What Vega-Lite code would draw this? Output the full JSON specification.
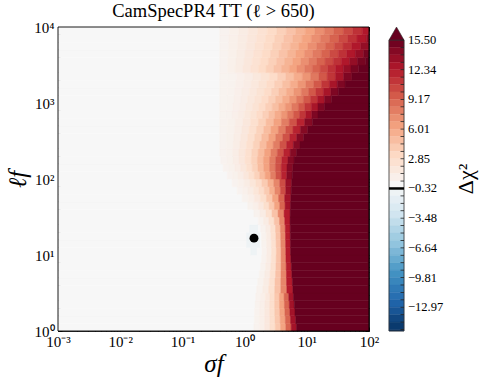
{
"$schema":"https://vega.github.io/schema/vega-lite/v6.json",
"background":"white",
"padding":{"left":5,"right":5,"top":1,"bottom":3},
"config":{"font":"Liberation Serif","view":{"stroke":null},
"axis":{"labelFont":"Liberation Serif","titleFont":"Liberation Serif","labelColor":"#000","titleColor":"#000","domainColor":"#000","tickColor":"#000","grid":false,"domainWidth":0.8,"tickWidth":0.8,"titleFontWeight":"normal","labelFlush":false,"labelOverlap":false,"labelBound":false,"zindex":1},
"title":{"font":"Liberation Serif","fontSize":18.5,"fontWeight":"normal","color":"#000"}},
"spacing":8,
"hconcat":[
{"width":311,"height":304,
"title":{"text":"CamSpecPR4 TT (ℓ > 650)","offset":0},
"layer":[
{"data":{"values":[
{"s0":-3,"s1":0.15,"l0":0,"l1":0.1,"dchi2":0},{"s0":0.15,"s1":0.236,"l0":0,"l1":0.1,"dchi2":0.55},{"s0":0.236,"s1":0.321,"l0":0,"l1":0.1,"dchi2":0.93},{"s0":0.321,"s1":0.407,"l0":0,"l1":0.1,"dchi2":1.63},{"s0":0.407,"s1":0.492,"l0":0,"l1":0.1,"dchi2":2.7},{"s0":0.492,"s1":0.578,"l0":0,"l1":0.1,"dchi2":4.21},{"s0":0.578,"s1":0.663,"l0":0,"l1":0.1,"dchi2":6.28},{"s0":0.663,"s1":0.749,"l0":0,"l1":0.1,"dchi2":9.12},{"s0":0.749,"s1":0.834,"l0":0,"l1":0.1,"dchi2":13.01},{"s0":0.834,"s1":2,"l0":0,"l1":0.1,"dchi2":16},
{"s0":-3,"s1":0.155,"l0":0.1,"l1":0.2,"dchi2":0},{"s0":0.155,"s1":0.238,"l0":0.1,"l1":0.2,"dchi2":0.55},{"s0":0.238,"s1":0.322,"l0":0.1,"l1":0.2,"dchi2":0.93},{"s0":0.322,"s1":0.405,"l0":0.1,"l1":0.2,"dchi2":1.63},{"s0":0.405,"s1":0.489,"l0":0.1,"l1":0.2,"dchi2":2.7},{"s0":0.489,"s1":0.572,"l0":0.1,"l1":0.2,"dchi2":4.21},{"s0":0.572,"s1":0.655,"l0":0.1,"l1":0.2,"dchi2":6.28},{"s0":0.655,"s1":0.739,"l0":0.1,"l1":0.2,"dchi2":9.12},{"s0":0.739,"s1":0.822,"l0":0.1,"l1":0.2,"dchi2":13.01},{"s0":0.822,"s1":2,"l0":0.1,"l1":0.2,"dchi2":16},
{"s0":-3,"s1":0.16,"l0":0.2,"l1":0.3,"dchi2":0},{"s0":0.16,"s1":0.241,"l0":0.2,"l1":0.3,"dchi2":0.55},{"s0":0.241,"s1":0.323,"l0":0.2,"l1":0.3,"dchi2":0.93},{"s0":0.323,"s1":0.404,"l0":0.2,"l1":0.3,"dchi2":1.63},{"s0":0.404,"s1":0.485,"l0":0.2,"l1":0.3,"dchi2":2.7},{"s0":0.485,"s1":0.566,"l0":0.2,"l1":0.3,"dchi2":4.21},{"s0":0.566,"s1":0.648,"l0":0.2,"l1":0.3,"dchi2":6.28},{"s0":0.648,"s1":0.729,"l0":0.2,"l1":0.3,"dchi2":9.12},{"s0":0.729,"s1":0.81,"l0":0.2,"l1":0.3,"dchi2":13.01},{"s0":0.81,"s1":2,"l0":0.2,"l1":0.3,"dchi2":16},
{"s0":-3,"s1":0.167,"l0":0.3,"l1":0.4,"dchi2":0},{"s0":0.167,"s1":0.246,"l0":0.3,"l1":0.4,"dchi2":0.55},{"s0":0.246,"s1":0.325,"l0":0.3,"l1":0.4,"dchi2":0.93},{"s0":0.325,"s1":0.404,"l0":0.3,"l1":0.4,"dchi2":1.63},{"s0":0.404,"s1":0.483,"l0":0.3,"l1":0.4,"dchi2":2.7},{"s0":0.483,"s1":0.561,"l0":0.3,"l1":0.4,"dchi2":4.21},{"s0":0.561,"s1":0.64,"l0":0.3,"l1":0.4,"dchi2":6.28},{"s0":0.64,"s1":0.719,"l0":0.3,"l1":0.4,"dchi2":9.12},{"s0":0.719,"s1":0.798,"l0":0.3,"l1":0.4,"dchi2":13.01},{"s0":0.798,"s1":2,"l0":0.3,"l1":0.4,"dchi2":16},
{"s0":-3,"s1":0.18,"l0":0.4,"l1":0.5,"dchi2":0},{"s0":0.18,"s1":0.256,"l0":0.4,"l1":0.5,"dchi2":0.55},{"s0":0.256,"s1":0.332,"l0":0.4,"l1":0.5,"dchi2":0.93},{"s0":0.332,"s1":0.407,"l0":0.4,"l1":0.5,"dchi2":1.63},{"s0":0.407,"s1":0.483,"l0":0.4,"l1":0.5,"dchi2":2.7},{"s0":0.483,"s1":0.559,"l0":0.4,"l1":0.5,"dchi2":4.21},{"s0":0.559,"s1":0.635,"l0":0.4,"l1":0.5,"dchi2":6.28},{"s0":0.635,"s1":0.71,"l0":0.4,"l1":0.5,"dchi2":9.12},{"s0":0.71,"s1":0.786,"l0":0.4,"l1":0.5,"dchi2":13.01},{"s0":0.786,"s1":2,"l0":0.4,"l1":0.5,"dchi2":16},
{"s0":-3,"s1":0.193,"l0":0.5,"l1":0.6,"dchi2":0},{"s0":0.193,"s1":0.29,"l0":0.5,"l1":0.6,"dchi2":0.59},{"s0":0.29,"s1":0.387,"l0":0.5,"l1":0.6,"dchi2":1.24},{"s0":0.387,"s1":0.485,"l0":0.5,"l1":0.6,"dchi2":2.49},{"s0":0.485,"s1":0.582,"l0":0.5,"l1":0.6,"dchi2":4.51},{"s0":0.582,"s1":0.679,"l0":0.5,"l1":0.6,"dchi2":7.59},{"s0":0.679,"s1":0.776,"l0":0.5,"l1":0.6,"dchi2":12.27},{"s0":0.776,"s1":2,"l0":0.5,"l1":0.6,"dchi2":16},
{"s0":-3,"s1":0.21,"l0":0.6,"l1":0.7,"dchi2":0},{"s0":0.21,"s1":0.303,"l0":0.6,"l1":0.7,"dchi2":0.59},{"s0":0.303,"s1":0.396,"l0":0.6,"l1":0.7,"dchi2":1.24},{"s0":0.396,"s1":0.489,"l0":0.6,"l1":0.7,"dchi2":2.49},{"s0":0.489,"s1":0.582,"l0":0.6,"l1":0.7,"dchi2":4.51},{"s0":0.582,"s1":0.675,"l0":0.6,"l1":0.7,"dchi2":7.59},{"s0":0.675,"s1":0.768,"l0":0.6,"l1":0.7,"dchi2":12.27},{"s0":0.768,"s1":2,"l0":0.6,"l1":0.7,"dchi2":16},
{"s0":-3,"s1":0.235,"l0":0.7,"l1":0.8,"dchi2":0},{"s0":0.235,"s1":0.323,"l0":0.7,"l1":0.8,"dchi2":0.59},{"s0":0.323,"s1":0.41,"l0":0.7,"l1":0.8,"dchi2":1.24},{"s0":0.41,"s1":0.498,"l0":0.7,"l1":0.8,"dchi2":2.49},{"s0":0.498,"s1":0.585,"l0":0.7,"l1":0.8,"dchi2":4.51},{"s0":0.585,"s1":0.673,"l0":0.7,"l1":0.8,"dchi2":7.59},{"s0":0.673,"s1":0.76,"l0":0.7,"l1":0.8,"dchi2":12.27},{"s0":0.76,"s1":2,"l0":0.7,"l1":0.8,"dchi2":16},
{"s0":-3,"s1":0.255,"l0":0.8,"l1":0.9,"dchi2":0},{"s0":0.255,"s1":0.338,"l0":0.8,"l1":0.9,"dchi2":0.59},{"s0":0.338,"s1":0.421,"l0":0.8,"l1":0.9,"dchi2":1.24},{"s0":0.421,"s1":0.504,"l0":0.8,"l1":0.9,"dchi2":2.49},{"s0":0.504,"s1":0.586,"l0":0.8,"l1":0.9,"dchi2":4.51},{"s0":0.586,"s1":0.669,"l0":0.8,"l1":0.9,"dchi2":7.59},{"s0":0.669,"s1":0.752,"l0":0.8,"l1":0.9,"dchi2":12.27},{"s0":0.752,"s1":2,"l0":0.8,"l1":0.9,"dchi2":16},
{"s0":-3,"s1":0.27,"l0":0.9,"l1":1.0,"dchi2":0},{"s0":0.27,"s1":0.349,"l0":0.9,"l1":1.0,"dchi2":0.59},{"s0":0.349,"s1":0.428,"l0":0.9,"l1":1.0,"dchi2":1.24},{"s0":0.428,"s1":0.507,"l0":0.9,"l1":1.0,"dchi2":2.49},{"s0":0.507,"s1":0.586,"l0":0.9,"l1":1.0,"dchi2":4.51},{"s0":0.586,"s1":0.665,"l0":0.9,"l1":1.0,"dchi2":7.59},{"s0":0.665,"s1":0.744,"l0":0.9,"l1":1.0,"dchi2":12.27},{"s0":0.744,"s1":2,"l0":0.9,"l1":1.0,"dchi2":16},
{"s0":-3,"s1":0.1,"l0":1.0,"l1":1.1,"dchi2":0},{"s0":0.1,"s1":0.2,"l0":1.0,"l1":1.1,"dchi2":-0.7},{"s0":0.2,"s1":0.28,"l0":1.0,"l1":1.1,"dchi2":0},{"s0":0.28,"s1":0.357,"l0":1.0,"l1":1.1,"dchi2":0.59},{"s0":0.357,"s1":0.433,"l0":1.0,"l1":1.1,"dchi2":1.24},{"s0":0.433,"s1":0.51,"l0":1.0,"l1":1.1,"dchi2":2.49},{"s0":0.51,"s1":0.586,"l0":1.0,"l1":1.1,"dchi2":4.51},{"s0":0.586,"s1":0.663,"l0":1.0,"l1":1.1,"dchi2":7.59},{"s0":0.663,"s1":0.739,"l0":1.0,"l1":1.1,"dchi2":12.27},{"s0":0.739,"s1":2,"l0":1.0,"l1":1.1,"dchi2":16},
{"s0":-3,"s1":0.03,"l0":1.1,"l1":1.2,"dchi2":0},{"s0":0.03,"s1":0.25,"l0":1.1,"l1":1.2,"dchi2":-0.7},{"s0":0.25,"s1":0.275,"l0":1.1,"l1":1.2,"dchi2":0},{"s0":0.275,"s1":0.352,"l0":1.1,"l1":1.2,"dchi2":0.59},{"s0":0.352,"s1":0.429,"l0":1.1,"l1":1.2,"dchi2":1.24},{"s0":0.429,"s1":0.506,"l0":1.1,"l1":1.2,"dchi2":2.49},{"s0":0.506,"s1":0.583,"l0":1.1,"l1":1.2,"dchi2":4.51},{"s0":0.583,"s1":0.66,"l0":1.1,"l1":1.2,"dchi2":7.59},{"s0":0.66,"s1":0.737,"l0":1.1,"l1":1.2,"dchi2":12.27},{"s0":0.737,"s1":2,"l0":1.1,"l1":1.2,"dchi2":16},
{"s0":-3,"s1":0.03,"l0":1.2,"l1":1.3,"dchi2":0},{"s0":0.03,"s1":0.25,"l0":1.2,"l1":1.3,"dchi2":-0.7},{"s0":0.25,"s1":0.27,"l0":1.2,"l1":1.3,"dchi2":0},{"s0":0.27,"s1":0.348,"l0":1.2,"l1":1.3,"dchi2":0.59},{"s0":0.348,"s1":0.425,"l0":1.2,"l1":1.3,"dchi2":1.24},{"s0":0.425,"s1":0.503,"l0":1.2,"l1":1.3,"dchi2":2.49},{"s0":0.503,"s1":0.58,"l0":1.2,"l1":1.3,"dchi2":4.51},{"s0":0.58,"s1":0.658,"l0":1.2,"l1":1.3,"dchi2":7.59},{"s0":0.658,"s1":0.735,"l0":1.2,"l1":1.3,"dchi2":12.27},{"s0":0.735,"s1":2,"l0":1.2,"l1":1.3,"dchi2":16},
{"s0":-3,"s1":0.08,"l0":1.3,"l1":1.4,"dchi2":0},{"s0":0.08,"s1":0.22,"l0":1.3,"l1":1.4,"dchi2":-0.7},{"s0":0.22,"s1":0.26,"l0":1.3,"l1":1.4,"dchi2":0},{"s0":0.26,"s1":0.339,"l0":1.3,"l1":1.4,"dchi2":0.59},{"s0":0.339,"s1":0.418,"l0":1.3,"l1":1.4,"dchi2":1.24},{"s0":0.418,"s1":0.497,"l0":1.3,"l1":1.4,"dchi2":2.49},{"s0":0.497,"s1":0.575,"l0":1.3,"l1":1.4,"dchi2":4.51},{"s0":0.575,"s1":0.654,"l0":1.3,"l1":1.4,"dchi2":7.59},{"s0":0.654,"s1":0.733,"l0":1.3,"l1":1.4,"dchi2":12.27},{"s0":0.733,"s1":2,"l0":1.3,"l1":1.4,"dchi2":16},
{"s0":-3,"s1":0.22,"l0":1.4,"l1":1.5,"dchi2":0},{"s0":0.22,"s1":0.305,"l0":1.4,"l1":1.5,"dchi2":0.59},{"s0":0.305,"s1":0.39,"l0":1.4,"l1":1.5,"dchi2":1.24},{"s0":0.39,"s1":0.476,"l0":1.4,"l1":1.5,"dchi2":2.49},{"s0":0.476,"s1":0.561,"l0":1.4,"l1":1.5,"dchi2":4.51},{"s0":0.561,"s1":0.646,"l0":1.4,"l1":1.5,"dchi2":7.59},{"s0":0.646,"s1":0.731,"l0":1.4,"l1":1.5,"dchi2":12.27},{"s0":0.731,"s1":2,"l0":1.4,"l1":1.5,"dchi2":16},
{"s0":-3,"s1":0.15,"l0":1.5,"l1":1.6,"dchi2":0},{"s0":0.15,"s1":0.247,"l0":1.5,"l1":1.6,"dchi2":0.59},{"s0":0.247,"s1":0.344,"l0":1.5,"l1":1.6,"dchi2":1.24},{"s0":0.344,"s1":0.441,"l0":1.5,"l1":1.6,"dchi2":2.49},{"s0":0.441,"s1":0.538,"l0":1.5,"l1":1.6,"dchi2":4.51},{"s0":0.538,"s1":0.635,"l0":1.5,"l1":1.6,"dchi2":7.59},{"s0":0.635,"s1":0.732,"l0":1.5,"l1":1.6,"dchi2":12.27},{"s0":0.732,"s1":2,"l0":1.5,"l1":1.6,"dchi2":16},
{"s0":-3,"s1":0.05,"l0":1.6,"l1":1.7,"dchi2":0},{"s0":0.05,"s1":0.136,"l0":1.6,"l1":1.7,"dchi2":0.55},{"s0":0.136,"s1":0.222,"l0":1.6,"l1":1.7,"dchi2":0.93},{"s0":0.222,"s1":0.308,"l0":1.6,"l1":1.7,"dchi2":1.63},{"s0":0.308,"s1":0.394,"l0":1.6,"l1":1.7,"dchi2":2.7},{"s0":0.394,"s1":0.479,"l0":1.6,"l1":1.7,"dchi2":4.21},{"s0":0.479,"s1":0.565,"l0":1.6,"l1":1.7,"dchi2":6.28},{"s0":0.565,"s1":0.651,"l0":1.6,"l1":1.7,"dchi2":9.12},{"s0":0.651,"s1":0.737,"l0":1.6,"l1":1.7,"dchi2":13.01},{"s0":0.737,"s1":2,"l0":1.6,"l1":1.7,"dchi2":16},
{"s0":-3,"s1":-0.04,"l0":1.7,"l1":1.8,"dchi2":0},{"s0":-0.04,"s1":0.058,"l0":1.7,"l1":1.8,"dchi2":0.55},{"s0":0.058,"s1":0.156,"l0":1.7,"l1":1.8,"dchi2":0.93},{"s0":0.156,"s1":0.253,"l0":1.7,"l1":1.8,"dchi2":1.63},{"s0":0.253,"s1":0.351,"l0":1.7,"l1":1.8,"dchi2":2.7},{"s0":0.351,"s1":0.449,"l0":1.7,"l1":1.8,"dchi2":4.21},{"s0":0.449,"s1":0.547,"l0":1.7,"l1":1.8,"dchi2":6.28},{"s0":0.547,"s1":0.644,"l0":1.7,"l1":1.8,"dchi2":9.12},{"s0":0.644,"s1":0.742,"l0":1.7,"l1":1.8,"dchi2":13.01},{"s0":0.742,"s1":2,"l0":1.7,"l1":1.8,"dchi2":16},
{"s0":-3,"s1":-0.12,"l0":1.8,"l1":1.9,"dchi2":0},{"s0":-0.12,"s1":-0.033,"l0":1.8,"l1":1.9,"dchi2":0.53},{"s0":-0.033,"s1":0.054,"l0":1.8,"l1":1.9,"dchi2":0.79},{"s0":0.054,"s1":0.141,"l0":1.8,"l1":1.9,"dchi2":1.24},{"s0":0.141,"s1":0.228,"l0":1.8,"l1":1.9,"dchi2":1.91},{"s0":0.228,"s1":0.315,"l0":1.8,"l1":1.9,"dchi2":2.83},{"s0":0.315,"s1":0.401,"l0":1.8,"l1":1.9,"dchi2":4.04},{"s0":0.401,"s1":0.488,"l0":1.8,"l1":1.9,"dchi2":5.59},{"s0":0.488,"s1":0.575,"l0":1.8,"l1":1.9,"dchi2":7.59},{"s0":0.575,"s1":0.662,"l0":1.8,"l1":1.9,"dchi2":10.15},{"s0":0.662,"s1":0.749,"l0":1.8,"l1":1.9,"dchi2":13.48},{"s0":0.749,"s1":2,"l0":1.8,"l1":1.9,"dchi2":16},
{"s0":-3,"s1":-0.2,"l0":1.9,"l1":2.0,"dchi2":0},{"s0":-0.2,"s1":-0.104,"l0":1.9,"l1":2.0,"dchi2":0.53},{"s0":-0.104,"s1":-0.009,"l0":1.9,"l1":2.0,"dchi2":0.79},{"s0":-0.009,"s1":0.087,"l0":1.9,"l1":2.0,"dchi2":1.24},{"s0":0.087,"s1":0.182,"l0":1.9,"l1":2.0,"dchi2":1.91},{"s0":0.182,"s1":0.278,"l0":1.9,"l1":2.0,"dchi2":2.83},{"s0":0.278,"s1":0.374,"l0":1.9,"l1":2.0,"dchi2":4.04},{"s0":0.374,"s1":0.469,"l0":1.9,"l1":2.0,"dchi2":5.59},{"s0":0.469,"s1":0.565,"l0":1.9,"l1":2.0,"dchi2":7.59},{"s0":0.565,"s1":0.66,"l0":1.9,"l1":2.0,"dchi2":10.15},{"s0":0.66,"s1":0.756,"l0":1.9,"l1":2.0,"dchi2":13.48},{"s0":0.756,"s1":2,"l0":1.9,"l1":2.0,"dchi2":16},
{"s0":-3,"s1":-0.28,"l0":2.0,"l1":2.1,"dchi2":0},{"s0":-0.28,"s1":-0.193,"l0":2.0,"l1":2.1,"dchi2":0.5},{"s0":-0.193,"s1":-0.106,"l0":2.0,"l1":2.1,"dchi2":0.71},{"s0":-0.106,"s1":-0.019,"l0":2.0,"l1":2.1,"dchi2":1.13},{"s0":-0.019,"s1":0.068,"l0":2.0,"l1":2.1,"dchi2":1.75},{"s0":0.068,"s1":0.155,"l0":2.0,"l1":2.1,"dchi2":2.58},{"s0":0.155,"s1":0.243,"l0":2.0,"l1":2.1,"dchi2":3.63},{"s0":0.243,"s1":0.33,"l0":2.0,"l1":2.1,"dchi2":4.88},{"s0":0.33,"s1":0.417,"l0":2.0,"l1":2.1,"dchi2":6.34},{"s0":0.417,"s1":0.504,"l0":2.0,"l1":2.1,"dchi2":8.01},{"s0":0.504,"s1":0.591,"l0":2.0,"l1":2.1,"dchi2":9.89},{"s0":0.591,"s1":0.678,"l0":2.0,"l1":2.1,"dchi2":11.97},{"s0":0.678,"s1":0.765,"l0":2.0,"l1":2.1,"dchi2":14.27},{"s0":0.765,"s1":2,"l0":2.0,"l1":2.1,"dchi2":16},
{"s0":-3,"s1":-0.345,"l0":2.1,"l1":2.2,"dchi2":0},{"s0":-0.345,"s1":-0.252,"l0":2.1,"l1":2.2,"dchi2":0.5},{"s0":-0.252,"s1":-0.158,"l0":2.1,"l1":2.2,"dchi2":0.71},{"s0":-0.158,"s1":-0.065,"l0":2.1,"l1":2.2,"dchi2":1.13},{"s0":-0.065,"s1":0.028,"l0":2.1,"l1":2.2,"dchi2":1.75},{"s0":0.028,"s1":0.122,"l0":2.1,"l1":2.2,"dchi2":2.58},{"s0":0.122,"s1":0.215,"l0":2.1,"l1":2.2,"dchi2":3.63},{"s0":0.215,"s1":0.308,"l0":2.1,"l1":2.2,"dchi2":4.88},{"s0":0.308,"s1":0.402,"l0":2.1,"l1":2.2,"dchi2":6.34},{"s0":0.402,"s1":0.495,"l0":2.1,"l1":2.2,"dchi2":8.01},{"s0":0.495,"s1":0.588,"l0":2.1,"l1":2.2,"dchi2":9.89},{"s0":0.588,"s1":0.682,"l0":2.1,"l1":2.2,"dchi2":11.97},{"s0":0.682,"s1":0.775,"l0":2.1,"l1":2.2,"dchi2":14.27},{"s0":0.775,"s1":2,"l0":2.1,"l1":2.2,"dchi2":16},
{"s0":-3,"s1":-0.385,"l0":2.2,"l1":2.3,"dchi2":0},{"s0":-0.385,"s1":-0.287,"l0":2.2,"l1":2.3,"dchi2":0.5},{"s0":-0.287,"s1":-0.188,"l0":2.2,"l1":2.3,"dchi2":0.71},{"s0":-0.188,"s1":-0.09,"l0":2.2,"l1":2.3,"dchi2":1.13},{"s0":-0.09,"s1":0.008,"l0":2.2,"l1":2.3,"dchi2":1.75},{"s0":0.008,"s1":0.107,"l0":2.2,"l1":2.3,"dchi2":2.58},{"s0":0.107,"s1":0.205,"l0":2.2,"l1":2.3,"dchi2":3.63},{"s0":0.205,"s1":0.303,"l0":2.2,"l1":2.3,"dchi2":4.88},{"s0":0.303,"s1":0.402,"l0":2.2,"l1":2.3,"dchi2":6.34},{"s0":0.402,"s1":0.5,"l0":2.2,"l1":2.3,"dchi2":8.01},{"s0":0.5,"s1":0.598,"l0":2.2,"l1":2.3,"dchi2":9.89},{"s0":0.598,"s1":0.697,"l0":2.2,"l1":2.3,"dchi2":11.97},{"s0":0.697,"s1":0.795,"l0":2.2,"l1":2.3,"dchi2":14.27},{"s0":0.795,"s1":2,"l0":2.2,"l1":2.3,"dchi2":16},
{"s0":-3,"s1":-0.4,"l0":2.3,"l1":2.4,"dchi2":0},{"s0":-0.4,"s1":-0.297,"l0":2.3,"l1":2.4,"dchi2":0.5},{"s0":-0.297,"s1":-0.194,"l0":2.3,"l1":2.4,"dchi2":0.71},{"s0":-0.194,"s1":-0.091,"l0":2.3,"l1":2.4,"dchi2":1.13},{"s0":-0.091,"s1":0.012,"l0":2.3,"l1":2.4,"dchi2":1.75},{"s0":0.012,"s1":0.115,"l0":2.3,"l1":2.4,"dchi2":2.58},{"s0":0.115,"s1":0.218,"l0":2.3,"l1":2.4,"dchi2":3.63},{"s0":0.218,"s1":0.32,"l0":2.3,"l1":2.4,"dchi2":4.88},{"s0":0.32,"s1":0.423,"l0":2.3,"l1":2.4,"dchi2":6.34},{"s0":0.423,"s1":0.526,"l0":2.3,"l1":2.4,"dchi2":8.01},{"s0":0.526,"s1":0.629,"l0":2.3,"l1":2.4,"dchi2":9.89},{"s0":0.629,"s1":0.732,"l0":2.3,"l1":2.4,"dchi2":11.97},{"s0":0.732,"s1":0.835,"l0":2.3,"l1":2.4,"dchi2":14.27},{"s0":0.835,"s1":2,"l0":2.3,"l1":2.4,"dchi2":16},
{"s0":-3,"s1":-0.4,"l0":2.4,"l1":2.5,"dchi2":0},{"s0":-0.4,"s1":-0.293,"l0":2.4,"l1":2.5,"dchi2":0.5},{"s0":-0.293,"s1":-0.185,"l0":2.4,"l1":2.5,"dchi2":0.71},{"s0":-0.185,"s1":-0.078,"l0":2.4,"l1":2.5,"dchi2":1.13},{"s0":-0.078,"s1":0.03,"l0":2.4,"l1":2.5,"dchi2":1.75},{"s0":0.03,"s1":0.138,"l0":2.4,"l1":2.5,"dchi2":2.58},{"s0":0.138,"s1":0.245,"l0":2.4,"l1":2.5,"dchi2":3.63},{"s0":0.245,"s1":0.353,"l0":2.4,"l1":2.5,"dchi2":4.88},{"s0":0.353,"s1":0.46,"l0":2.4,"l1":2.5,"dchi2":6.34},{"s0":0.46,"s1":0.568,"l0":2.4,"l1":2.5,"dchi2":8.01},{"s0":0.568,"s1":0.675,"l0":2.4,"l1":2.5,"dchi2":9.89},{"s0":0.675,"s1":0.783,"l0":2.4,"l1":2.5,"dchi2":11.97},{"s0":0.783,"s1":0.89,"l0":2.4,"l1":2.5,"dchi2":14.27},{"s0":0.89,"s1":2,"l0":2.4,"l1":2.5,"dchi2":16},
{"s0":-3,"s1":-0.4,"l0":2.5,"l1":2.6,"dchi2":0},{"s0":-0.4,"s1":-0.288,"l0":2.5,"l1":2.6,"dchi2":0.5},{"s0":-0.288,"s1":-0.175,"l0":2.5,"l1":2.6,"dchi2":0.71},{"s0":-0.175,"s1":-0.063,"l0":2.5,"l1":2.6,"dchi2":1.13},{"s0":-0.063,"s1":0.05,"l0":2.5,"l1":2.6,"dchi2":1.75},{"s0":0.05,"s1":0.163,"l0":2.5,"l1":2.6,"dchi2":2.58},{"s0":0.163,"s1":0.275,"l0":2.5,"l1":2.6,"dchi2":3.63},{"s0":0.275,"s1":0.388,"l0":2.5,"l1":2.6,"dchi2":4.88},{"s0":0.388,"s1":0.5,"l0":2.5,"l1":2.6,"dchi2":6.34},{"s0":0.5,"s1":0.613,"l0":2.5,"l1":2.6,"dchi2":8.01},{"s0":0.613,"s1":0.725,"l0":2.5,"l1":2.6,"dchi2":9.89},{"s0":0.725,"s1":0.838,"l0":2.5,"l1":2.6,"dchi2":11.97},{"s0":0.838,"s1":0.95,"l0":2.5,"l1":2.6,"dchi2":14.27},{"s0":0.95,"s1":2,"l0":2.5,"l1":2.6,"dchi2":16},
{"s0":-3,"s1":-0.4,"l0":2.6,"l1":2.7,"dchi2":0},{"s0":-0.4,"s1":-0.282,"l0":2.6,"l1":2.7,"dchi2":0.5},{"s0":-0.282,"s1":-0.164,"l0":2.6,"l1":2.7,"dchi2":0.71},{"s0":-0.164,"s1":-0.046,"l0":2.6,"l1":2.7,"dchi2":1.13},{"s0":-0.046,"s1":0.072,"l0":2.6,"l1":2.7,"dchi2":1.75},{"s0":0.072,"s1":0.19,"l0":2.6,"l1":2.7,"dchi2":2.58},{"s0":0.19,"s1":0.308,"l0":2.6,"l1":2.7,"dchi2":3.63},{"s0":0.308,"s1":0.425,"l0":2.6,"l1":2.7,"dchi2":4.88},{"s0":0.425,"s1":0.543,"l0":2.6,"l1":2.7,"dchi2":6.34},{"s0":0.543,"s1":0.661,"l0":2.6,"l1":2.7,"dchi2":8.01},{"s0":0.661,"s1":0.779,"l0":2.6,"l1":2.7,"dchi2":9.89},{"s0":0.779,"s1":0.897,"l0":2.6,"l1":2.7,"dchi2":11.97},{"s0":0.897,"s1":1.015,"l0":2.6,"l1":2.7,"dchi2":14.27},{"s0":1.015,"s1":2,"l0":2.6,"l1":2.7,"dchi2":16},
{"s0":-3,"s1":-0.4,"l0":2.7,"l1":2.8,"dchi2":0},{"s0":-0.4,"s1":-0.276,"l0":2.7,"l1":2.8,"dchi2":0.5},{"s0":-0.276,"s1":-0.152,"l0":2.7,"l1":2.8,"dchi2":0.71},{"s0":-0.152,"s1":-0.027,"l0":2.7,"l1":2.8,"dchi2":1.13},{"s0":-0.027,"s1":0.097,"l0":2.7,"l1":2.8,"dchi2":1.75},{"s0":0.097,"s1":0.221,"l0":2.7,"l1":2.8,"dchi2":2.58},{"s0":0.221,"s1":0.345,"l0":2.7,"l1":2.8,"dchi2":3.63},{"s0":0.345,"s1":0.469,"l0":2.7,"l1":2.8,"dchi2":4.88},{"s0":0.469,"s1":0.593,"l0":2.7,"l1":2.8,"dchi2":6.34},{"s0":0.593,"s1":0.718,"l0":2.7,"l1":2.8,"dchi2":8.01},{"s0":0.718,"s1":0.842,"l0":2.7,"l1":2.8,"dchi2":9.89},{"s0":0.842,"s1":0.966,"l0":2.7,"l1":2.8,"dchi2":11.97},{"s0":0.966,"s1":1.09,"l0":2.7,"l1":2.8,"dchi2":14.27},{"s0":1.09,"s1":2,"l0":2.7,"l1":2.8,"dchi2":16},
{"s0":-3,"s1":-0.4,"l0":2.8,"l1":2.9,"dchi2":0},{"s0":-0.4,"s1":-0.301,"l0":2.8,"l1":2.9,"dchi2":0.49},{"s0":-0.301,"s1":-0.203,"l0":2.8,"l1":2.9,"dchi2":0.6},{"s0":-0.203,"s1":-0.104,"l0":2.8,"l1":2.9,"dchi2":0.84},{"s0":-0.104,"s1":-0.005,"l0":2.8,"l1":2.9,"dchi2":1.19},{"s0":-0.005,"s1":0.094,"l0":2.8,"l1":2.9,"dchi2":1.66},{"s0":0.094,"s1":0.193,"l0":2.8,"l1":2.9,"dchi2":2.25},{"s0":0.193,"s1":0.291,"l0":2.8,"l1":2.9,"dchi2":2.95},{"s0":0.291,"s1":0.39,"l0":2.8,"l1":2.9,"dchi2":3.78},{"s0":0.39,"s1":0.489,"l0":2.8,"l1":2.9,"dchi2":4.72},{"s0":0.489,"s1":0.588,"l0":2.8,"l1":2.9,"dchi2":5.77},{"s0":0.588,"s1":0.686,"l0":2.8,"l1":2.9,"dchi2":6.94},{"s0":0.686,"s1":0.785,"l0":2.8,"l1":2.9,"dchi2":8.24},{"s0":0.785,"s1":0.884,"l0":2.8,"l1":2.9,"dchi2":9.65},{"s0":0.884,"s1":0.983,"l0":2.8,"l1":2.9,"dchi2":11.17},{"s0":0.983,"s1":1.081,"l0":2.8,"l1":2.9,"dchi2":12.81},{"s0":1.081,"s1":1.18,"l0":2.8,"l1":2.9,"dchi2":14.57},{"s0":1.18,"s1":2,"l0":2.8,"l1":2.9,"dchi2":16},
{"s0":-3,"s1":-0.4,"l0":2.9,"l1":3.0,"dchi2":0},{"s0":-0.4,"s1":-0.295,"l0":2.9,"l1":3.0,"dchi2":0.49},{"s0":-0.295,"s1":-0.189,"l0":2.9,"l1":3.0,"dchi2":0.6},{"s0":-0.189,"s1":-0.084,"l0":2.9,"l1":3.0,"dchi2":0.84},{"s0":-0.084,"s1":0.021,"l0":2.9,"l1":3.0,"dchi2":1.19},{"s0":0.021,"s1":0.127,"l0":2.9,"l1":3.0,"dchi2":1.66},{"s0":0.127,"s1":0.232,"l0":2.9,"l1":3.0,"dchi2":2.25},{"s0":0.232,"s1":0.337,"l0":2.9,"l1":3.0,"dchi2":2.95},{"s0":0.337,"s1":0.443,"l0":2.9,"l1":3.0,"dchi2":3.78},{"s0":0.443,"s1":0.548,"l0":2.9,"l1":3.0,"dchi2":4.72},{"s0":0.548,"s1":0.653,"l0":2.9,"l1":3.0,"dchi2":5.77},{"s0":0.653,"s1":0.758,"l0":2.9,"l1":3.0,"dchi2":6.94},{"s0":0.758,"s1":0.864,"l0":2.9,"l1":3.0,"dchi2":8.24},{"s0":0.864,"s1":0.969,"l0":2.9,"l1":3.0,"dchi2":9.65},{"s0":0.969,"s1":1.074,"l0":2.9,"l1":3.0,"dchi2":11.17},{"s0":1.074,"s1":1.18,"l0":2.9,"l1":3.0,"dchi2":12.81},{"s0":1.18,"s1":1.285,"l0":2.9,"l1":3.0,"dchi2":14.57},{"s0":1.285,"s1":2,"l0":2.9,"l1":3.0,"dchi2":16},
{"s0":-3,"s1":-0.4,"l0":3.0,"l1":3.1,"dchi2":0},{"s0":-0.4,"s1":-0.288,"l0":3.0,"l1":3.1,"dchi2":0.49},{"s0":-0.288,"s1":-0.176,"l0":3.0,"l1":3.1,"dchi2":0.6},{"s0":-0.176,"s1":-0.063,"l0":3.0,"l1":3.1,"dchi2":0.84},{"s0":-0.063,"s1":0.049,"l0":3.0,"l1":3.1,"dchi2":1.19},{"s0":0.049,"s1":0.161,"l0":3.0,"l1":3.1,"dchi2":1.66},{"s0":0.161,"s1":0.273,"l0":3.0,"l1":3.1,"dchi2":2.25},{"s0":0.273,"s1":0.385,"l0":3.0,"l1":3.1,"dchi2":2.95},{"s0":0.385,"s1":0.498,"l0":3.0,"l1":3.1,"dchi2":3.78},{"s0":0.498,"s1":0.61,"l0":3.0,"l1":3.1,"dchi2":4.72},{"s0":0.61,"s1":0.722,"l0":3.0,"l1":3.1,"dchi2":5.77},{"s0":0.722,"s1":0.834,"l0":3.0,"l1":3.1,"dchi2":6.94},{"s0":0.834,"s1":0.946,"l0":3.0,"l1":3.1,"dchi2":8.24},{"s0":0.946,"s1":1.058,"l0":3.0,"l1":3.1,"dchi2":9.65},{"s0":1.058,"s1":1.171,"l0":3.0,"l1":3.1,"dchi2":11.17},{"s0":1.171,"s1":1.283,"l0":3.0,"l1":3.1,"dchi2":12.81},{"s0":1.283,"s1":1.395,"l0":3.0,"l1":3.1,"dchi2":14.57},{"s0":1.395,"s1":2,"l0":3.0,"l1":3.1,"dchi2":16},
{"s0":-3,"s1":-0.4,"l0":3.1,"l1":3.2,"dchi2":0},{"s0":-0.4,"s1":-0.281,"l0":3.1,"l1":3.2,"dchi2":0.49},{"s0":-0.281,"s1":-0.162,"l0":3.1,"l1":3.2,"dchi2":0.6},{"s0":-0.162,"s1":-0.043,"l0":3.1,"l1":3.2,"dchi2":0.84},{"s0":-0.043,"s1":0.076,"l0":3.1,"l1":3.2,"dchi2":1.19},{"s0":0.076,"s1":0.195,"l0":3.1,"l1":3.2,"dchi2":1.66},{"s0":0.195,"s1":0.314,"l0":3.1,"l1":3.2,"dchi2":2.25},{"s0":0.314,"s1":0.433,"l0":3.1,"l1":3.2,"dchi2":2.95},{"s0":0.433,"s1":0.553,"l0":3.1,"l1":3.2,"dchi2":3.78},{"s0":0.553,"s1":0.672,"l0":3.1,"l1":3.2,"dchi2":4.72},{"s0":0.672,"s1":0.791,"l0":3.1,"l1":3.2,"dchi2":5.77},{"s0":0.791,"s1":0.91,"l0":3.1,"l1":3.2,"dchi2":6.94},{"s0":0.91,"s1":1.029,"l0":3.1,"l1":3.2,"dchi2":8.24},{"s0":1.029,"s1":1.148,"l0":3.1,"l1":3.2,"dchi2":9.65},{"s0":1.148,"s1":1.267,"l0":3.1,"l1":3.2,"dchi2":11.17},{"s0":1.267,"s1":1.386,"l0":3.1,"l1":3.2,"dchi2":12.81},{"s0":1.386,"s1":1.505,"l0":3.1,"l1":3.2,"dchi2":14.57},{"s0":1.505,"s1":2,"l0":3.1,"l1":3.2,"dchi2":16},
{"s0":-3,"s1":-0.4,"l0":3.2,"l1":3.3,"dchi2":0},{"s0":-0.4,"s1":-0.274,"l0":3.2,"l1":3.3,"dchi2":0.49},{"s0":-0.274,"s1":-0.148,"l0":3.2,"l1":3.3,"dchi2":0.6},{"s0":-0.148,"s1":-0.022,"l0":3.2,"l1":3.3,"dchi2":0.84},{"s0":-0.022,"s1":0.104,"l0":3.2,"l1":3.3,"dchi2":1.19},{"s0":0.104,"s1":0.23,"l0":3.2,"l1":3.3,"dchi2":1.66},{"s0":0.23,"s1":0.356,"l0":3.2,"l1":3.3,"dchi2":2.25},{"s0":0.356,"s1":0.482,"l0":3.2,"l1":3.3,"dchi2":2.95},{"s0":0.482,"s1":0.608,"l0":3.2,"l1":3.3,"dchi2":3.78},{"s0":0.608,"s1":0.733,"l0":3.2,"l1":3.3,"dchi2":4.72},{"s0":0.733,"s1":0.859,"l0":3.2,"l1":3.3,"dchi2":5.77},{"s0":0.859,"s1":0.985,"l0":3.2,"l1":3.3,"dchi2":6.94},{"s0":0.985,"s1":1.111,"l0":3.2,"l1":3.3,"dchi2":8.24},{"s0":1.111,"s1":1.237,"l0":3.2,"l1":3.3,"dchi2":9.65},{"s0":1.237,"s1":1.363,"l0":3.2,"l1":3.3,"dchi2":11.17},{"s0":1.363,"s1":1.489,"l0":3.2,"l1":3.3,"dchi2":12.81},{"s0":1.489,"s1":1.615,"l0":3.2,"l1":3.3,"dchi2":14.57},{"s0":1.615,"s1":2,"l0":3.2,"l1":3.3,"dchi2":16},
{"s0":-3,"s1":-0.4,"l0":3.3,"l1":3.4,"dchi2":0},{"s0":-0.4,"s1":-0.267,"l0":3.3,"l1":3.4,"dchi2":0.49},{"s0":-0.267,"s1":-0.134,"l0":3.3,"l1":3.4,"dchi2":0.6},{"s0":-0.134,"s1":-0.002,"l0":3.3,"l1":3.4,"dchi2":0.84},{"s0":-0.002,"s1":0.131,"l0":3.3,"l1":3.4,"dchi2":1.19},{"s0":0.131,"s1":0.264,"l0":3.3,"l1":3.4,"dchi2":1.66},{"s0":0.264,"s1":0.397,"l0":3.3,"l1":3.4,"dchi2":2.25},{"s0":0.397,"s1":0.53,"l0":3.3,"l1":3.4,"dchi2":2.95},{"s0":0.53,"s1":0.663,"l0":3.3,"l1":3.4,"dchi2":3.78},{"s0":0.663,"s1":0.795,"l0":3.3,"l1":3.4,"dchi2":4.72},{"s0":0.795,"s1":0.928,"l0":3.3,"l1":3.4,"dchi2":5.77},{"s0":0.928,"s1":1.061,"l0":3.3,"l1":3.4,"dchi2":6.94},{"s0":1.061,"s1":1.194,"l0":3.3,"l1":3.4,"dchi2":8.24},{"s0":1.194,"s1":1.327,"l0":3.3,"l1":3.4,"dchi2":9.65},{"s0":1.327,"s1":1.459,"l0":3.3,"l1":3.4,"dchi2":11.17},{"s0":1.459,"s1":1.592,"l0":3.3,"l1":3.4,"dchi2":12.81},{"s0":1.592,"s1":1.725,"l0":3.3,"l1":3.4,"dchi2":14.57},{"s0":1.725,"s1":2,"l0":3.3,"l1":3.4,"dchi2":16},
{"s0":-3,"s1":-0.4,"l0":3.4,"l1":3.5,"dchi2":0},{"s0":-0.4,"s1":-0.276,"l0":3.4,"l1":3.5,"dchi2":0.54},{"s0":-0.276,"s1":-0.152,"l0":3.4,"l1":3.5,"dchi2":0.83},{"s0":-0.152,"s1":-0.027,"l0":3.4,"l1":3.5,"dchi2":1.25},{"s0":-0.027,"s1":0.097,"l0":3.4,"l1":3.5,"dchi2":1.76},{"s0":0.097,"s1":0.221,"l0":3.4,"l1":3.5,"dchi2":2.35},{"s0":0.221,"s1":0.345,"l0":3.4,"l1":3.5,"dchi2":3.01},{"s0":0.345,"s1":0.469,"l0":3.4,"l1":3.5,"dchi2":3.73},{"s0":0.469,"s1":0.593,"l0":3.4,"l1":3.5,"dchi2":4.51},{"s0":0.593,"s1":0.718,"l0":3.4,"l1":3.5,"dchi2":5.35},{"s0":0.718,"s1":0.842,"l0":3.4,"l1":3.5,"dchi2":6.23},{"s0":0.842,"s1":0.966,"l0":3.4,"l1":3.5,"dchi2":7.17},{"s0":0.966,"s1":1.09,"l0":3.4,"l1":3.5,"dchi2":8.15},{"s0":1.09,"s1":1.214,"l0":3.4,"l1":3.5,"dchi2":9.17},{"s0":1.214,"s1":1.338,"l0":3.4,"l1":3.5,"dchi2":10.23},{"s0":1.338,"s1":1.463,"l0":3.4,"l1":3.5,"dchi2":11.34},{"s0":1.463,"s1":1.587,"l0":3.4,"l1":3.5,"dchi2":12.48},{"s0":1.587,"s1":1.711,"l0":3.4,"l1":3.5,"dchi2":13.66},{"s0":1.711,"s1":1.835,"l0":3.4,"l1":3.5,"dchi2":14.87},{"s0":1.835,"s1":2,"l0":3.4,"l1":3.5,"dchi2":16},
{"s0":-3,"s1":-0.4,"l0":3.5,"l1":3.6,"dchi2":0},{"s0":-0.4,"s1":-0.27,"l0":3.5,"l1":3.6,"dchi2":0.54},{"s0":-0.27,"s1":-0.139,"l0":3.5,"l1":3.6,"dchi2":0.83},{"s0":-0.139,"s1":-0.009,"l0":3.5,"l1":3.6,"dchi2":1.25},{"s0":-0.009,"s1":0.121,"l0":3.5,"l1":3.6,"dchi2":1.76},{"s0":0.121,"s1":0.251,"l0":3.5,"l1":3.6,"dchi2":2.35},{"s0":0.251,"s1":0.382,"l0":3.5,"l1":3.6,"dchi2":3.01},{"s0":0.382,"s1":0.512,"l0":3.5,"l1":3.6,"dchi2":3.73},{"s0":0.512,"s1":0.642,"l0":3.5,"l1":3.6,"dchi2":4.51},{"s0":0.642,"s1":0.773,"l0":3.5,"l1":3.6,"dchi2":5.35},{"s0":0.773,"s1":0.903,"l0":3.5,"l1":3.6,"dchi2":6.23},{"s0":0.903,"s1":1.033,"l0":3.5,"l1":3.6,"dchi2":7.17},{"s0":1.033,"s1":1.163,"l0":3.5,"l1":3.6,"dchi2":8.15},{"s0":1.163,"s1":1.294,"l0":3.5,"l1":3.6,"dchi2":9.17},{"s0":1.294,"s1":1.424,"l0":3.5,"l1":3.6,"dchi2":10.23},{"s0":1.424,"s1":1.554,"l0":3.5,"l1":3.6,"dchi2":11.34},{"s0":1.554,"s1":1.685,"l0":3.5,"l1":3.6,"dchi2":12.48},{"s0":1.685,"s1":1.815,"l0":3.5,"l1":3.6,"dchi2":13.66},{"s0":1.815,"s1":1.945,"l0":3.5,"l1":3.6,"dchi2":14.87},{"s0":1.945,"s1":2,"l0":3.5,"l1":3.6,"dchi2":16},
{"s0":-3,"s1":-0.4,"l0":3.6,"l1":3.7,"dchi2":0},{"s0":-0.4,"s1":-0.264,"l0":3.6,"l1":3.7,"dchi2":0.54},{"s0":-0.264,"s1":-0.128,"l0":3.6,"l1":3.7,"dchi2":0.83},{"s0":-0.128,"s1":0.008,"l0":3.6,"l1":3.7,"dchi2":1.25},{"s0":0.008,"s1":0.144,"l0":3.6,"l1":3.7,"dchi2":1.76},{"s0":0.144,"s1":0.281,"l0":3.6,"l1":3.7,"dchi2":2.35},{"s0":0.281,"s1":0.417,"l0":3.6,"l1":3.7,"dchi2":3.01},{"s0":0.417,"s1":0.553,"l0":3.6,"l1":3.7,"dchi2":3.73},{"s0":0.553,"s1":0.689,"l0":3.6,"l1":3.7,"dchi2":4.51},{"s0":0.689,"s1":0.825,"l0":3.6,"l1":3.7,"dchi2":5.35},{"s0":0.825,"s1":0.961,"l0":3.6,"l1":3.7,"dchi2":6.23},{"s0":0.961,"s1":1.097,"l0":3.6,"l1":3.7,"dchi2":7.17},{"s0":1.097,"s1":1.233,"l0":3.6,"l1":3.7,"dchi2":8.15},{"s0":1.233,"s1":1.369,"l0":3.6,"l1":3.7,"dchi2":9.17},{"s0":1.369,"s1":1.506,"l0":3.6,"l1":3.7,"dchi2":10.23},{"s0":1.506,"s1":1.642,"l0":3.6,"l1":3.7,"dchi2":11.34},{"s0":1.642,"s1":1.778,"l0":3.6,"l1":3.7,"dchi2":12.48},{"s0":1.778,"s1":1.914,"l0":3.6,"l1":3.7,"dchi2":13.66},{"s0":1.914,"s1":2,"l0":3.6,"l1":3.7,"dchi2":14.87},
{"s0":-3,"s1":-0.4,"l0":3.7,"l1":3.8,"dchi2":0},{"s0":-0.4,"s1":-0.258,"l0":3.7,"l1":3.8,"dchi2":0.54},{"s0":-0.258,"s1":-0.117,"l0":3.7,"l1":3.8,"dchi2":0.83},{"s0":-0.117,"s1":0.025,"l0":3.7,"l1":3.8,"dchi2":1.25},{"s0":0.025,"s1":0.167,"l0":3.7,"l1":3.8,"dchi2":1.76},{"s0":0.167,"s1":0.308,"l0":3.7,"l1":3.8,"dchi2":2.35},{"s0":0.308,"s1":0.45,"l0":3.7,"l1":3.8,"dchi2":3.01},{"s0":0.45,"s1":0.592,"l0":3.7,"l1":3.8,"dchi2":3.73},{"s0":0.592,"s1":0.733,"l0":3.7,"l1":3.8,"dchi2":4.51},{"s0":0.733,"s1":0.875,"l0":3.7,"l1":3.8,"dchi2":5.35},{"s0":0.875,"s1":1.017,"l0":3.7,"l1":3.8,"dchi2":6.23},{"s0":1.017,"s1":1.158,"l0":3.7,"l1":3.8,"dchi2":7.17},{"s0":1.158,"s1":1.3,"l0":3.7,"l1":3.8,"dchi2":8.15},{"s0":1.3,"s1":1.442,"l0":3.7,"l1":3.8,"dchi2":9.17},{"s0":1.442,"s1":1.583,"l0":3.7,"l1":3.8,"dchi2":10.23},{"s0":1.583,"s1":1.725,"l0":3.7,"l1":3.8,"dchi2":11.34},{"s0":1.725,"s1":1.867,"l0":3.7,"l1":3.8,"dchi2":12.48},{"s0":1.867,"s1":2,"l0":3.7,"l1":3.8,"dchi2":13.66},
{"s0":-3,"s1":-0.4,"l0":3.8,"l1":3.9,"dchi2":0},{"s0":-0.4,"s1":-0.253,"l0":3.8,"l1":3.9,"dchi2":0.54},{"s0":-0.253,"s1":-0.106,"l0":3.8,"l1":3.9,"dchi2":0.83},{"s0":-0.106,"s1":0.042,"l0":3.8,"l1":3.9,"dchi2":1.25},{"s0":0.042,"s1":0.189,"l0":3.8,"l1":3.9,"dchi2":1.76},{"s0":0.189,"s1":0.336,"l0":3.8,"l1":3.9,"dchi2":2.35},{"s0":0.336,"s1":0.483,"l0":3.8,"l1":3.9,"dchi2":3.01},{"s0":0.483,"s1":0.631,"l0":3.8,"l1":3.9,"dchi2":3.73},{"s0":0.631,"s1":0.778,"l0":3.8,"l1":3.9,"dchi2":4.51},{"s0":0.778,"s1":0.925,"l0":3.8,"l1":3.9,"dchi2":5.35},{"s0":0.925,"s1":1.072,"l0":3.8,"l1":3.9,"dchi2":6.23},{"s0":1.072,"s1":1.219,"l0":3.8,"l1":3.9,"dchi2":7.17},{"s0":1.219,"s1":1.367,"l0":3.8,"l1":3.9,"dchi2":8.15},{"s0":1.367,"s1":1.514,"l0":3.8,"l1":3.9,"dchi2":9.17},{"s0":1.514,"s1":1.661,"l0":3.8,"l1":3.9,"dchi2":10.23},{"s0":1.661,"s1":1.808,"l0":3.8,"l1":3.9,"dchi2":11.34},{"s0":1.808,"s1":1.956,"l0":3.8,"l1":3.9,"dchi2":12.48},{"s0":1.956,"s1":2,"l0":3.8,"l1":3.9,"dchi2":13.66},
{"s0":-3,"s1":-0.4,"l0":3.9,"l1":4.0,"dchi2":0},{"s0":-0.4,"s1":-0.247,"l0":3.9,"l1":4.0,"dchi2":0.54},{"s0":-0.247,"s1":-0.094,"l0":3.9,"l1":4.0,"dchi2":0.83},{"s0":-0.094,"s1":0.058,"l0":3.9,"l1":4.0,"dchi2":1.25},{"s0":0.058,"s1":0.211,"l0":3.9,"l1":4.0,"dchi2":1.76},{"s0":0.211,"s1":0.364,"l0":3.9,"l1":4.0,"dchi2":2.35},{"s0":0.364,"s1":0.517,"l0":3.9,"l1":4.0,"dchi2":3.01},{"s0":0.517,"s1":0.669,"l0":3.9,"l1":4.0,"dchi2":3.73},{"s0":0.669,"s1":0.822,"l0":3.9,"l1":4.0,"dchi2":4.51},{"s0":0.822,"s1":0.975,"l0":3.9,"l1":4.0,"dchi2":5.35},{"s0":0.975,"s1":1.128,"l0":3.9,"l1":4.0,"dchi2":6.23},{"s0":1.128,"s1":1.281,"l0":3.9,"l1":4.0,"dchi2":7.17},{"s0":1.281,"s1":1.433,"l0":3.9,"l1":4.0,"dchi2":8.15},{"s0":1.433,"s1":1.586,"l0":3.9,"l1":4.0,"dchi2":9.17},{"s0":1.586,"s1":1.739,"l0":3.9,"l1":4.0,"dchi2":10.23},{"s0":1.739,"s1":1.892,"l0":3.9,"l1":4.0,"dchi2":11.34},{"s0":1.892,"s1":2,"l0":3.9,"l1":4.0,"dchi2":12.48}
]},
"mark":{"type":"rect","strokeWidth":0.5,"clip":true},
"encoding":{
"x":{"field":"s0","type":"quantitative","scale":{"domain":[-3,2],"nice":false,"zero":false},
"axis":{"orient":"bottom","values":[-3,-2.69897,-2.52288,-2.39794,-2.30103,-2.22185,-2.1549,-2.09691,-2.04576,-2,-1.69897,-1.52288,-1.39794,-1.30103,-1.22185,-1.1549,-1.09691,-1.04576,-1,-0.69897,-0.52288,-0.39794,-0.30103,-0.22185,-0.1549,-0.09691,-0.04576,0,0.30103,0.47712,0.60206,0.69897,0.77815,0.8451,0.90309,0.95424,1,1.30103,1.47712,1.60206,1.69897,1.77815,1.8451,1.90309,1.95424,2],
"labelExpr":"datum.value === -3 ? '10⁻³' : datum.value === -2 ? '10⁻²' : datum.value === -1 ? '10⁻¹' : datum.value === 0 ? '10⁰' : datum.value === 1 ? '10¹' : datum.value === 2 ? '10²' : ''",
"labelFontSize":15,"labelPadding":7,"title":"σf","titleFontSize":25,"titleFontStyle":"italic","titlePadding":0,
"tickSize":{"condition":{"test":"datum.value === round(datum.value)","value":-4},"value":-2}}},
"x2":{"field":"s1"},
"y":{"field":"l0","type":"quantitative","scale":{"domain":[0,4],"nice":false,"zero":false},
"axis":{"orient":"left","values":[0,0.30103,0.47712,0.60206,0.69897,0.77815,0.8451,0.90309,0.95424,1,1.30103,1.47712,1.60206,1.69897,1.77815,1.8451,1.90309,1.95424,2,2.30103,2.47712,2.60206,2.69897,2.77815,2.8451,2.90309,2.95424,3,3.30103,3.47712,3.60206,3.69897,3.77815,3.8451,3.90309,3.95424,4],
"labelExpr":"datum.value === 0 ? '10⁰' : datum.value === 1 ? '10¹' : datum.value === 2 ? '10²' : datum.value === 3 ? '10³' : datum.value === 4 ? '10⁴' : ''",
"labelFontSize":15,"labelPadding":8,"title":"ℓf","titleFontSize":25,"titleFontStyle":"italic","titlePadding":3,
"tickSize":{"condition":{"test":"datum.value === round(datum.value)","value":-4},"value":-2}}},
"y2":{"field":"l1"},
"fill":{"field":"dchi2","type":"quantitative","scale":{"type":"linear","domain":[-15.5,-12.4,-9.3,-6.2,-3.1,0,3.1,6.2,9.3,12.4,15.5],"range":["#053061","#2166ac","#4393c3","#92c5de","#d1e5f0","#f7f7f7","#fddbc7","#f4a582","#d6604d","#b2182b","#67001f"],"interpolate":"rgb","clamp":true,"nice":false,"zero":false},"legend":null},
"stroke":{"field":"dchi2","type":"quantitative","scale":{"type":"linear","domain":[-15.5,-12.4,-9.3,-6.2,-3.1,0,3.1,6.2,9.3,12.4,15.5],"range":["#053061","#2166ac","#4393c3","#92c5de","#d1e5f0","#f7f7f7","#fddbc7","#f4a582","#d6604d","#b2182b","#67001f"],"interpolate":"rgb","clamp":true,"nice":false,"zero":false},"legend":null}
}},
{"data":{"values":[{"s0":-3,"s1":2,"l0":0,"l1":4}]},
"mark":{"type":"rect","filled":false,"stroke":"#000","strokeWidth":0.9},
"encoding":{
"x":{"field":"s0","type":"quantitative","axis":{"values":[-3,-2.69897,-2.52288,-2.39794,-2.30103,-2.22185,-2.1549,-2.09691,-2.04576,-2,-1.69897,-1.52288,-1.39794,-1.30103,-1.22185,-1.1549,-1.09691,-1.04576,-1,-0.69897,-0.52288,-0.39794,-0.30103,-0.22185,-0.1549,-0.09691,-0.04576,0,0.30103,0.47712,0.60206,0.69897,0.77815,0.8451,0.90309,0.95424,1,1.30103,1.47712,1.60206,1.69897,1.77815,1.8451,1.90309,1.95424,2],"labels":false,"title":null,"minExtent":0,"maxExtent":0,
"tickSize":{"condition":{"test":"datum.value === round(datum.value)","value":-4},"value":-2}}},
"x2":{"field":"s1"},
"y":{"field":"l0","type":"quantitative","axis":{"values":[0,0.30103,0.47712,0.60206,0.69897,0.77815,0.8451,0.90309,0.95424,1,1.30103,1.47712,1.60206,1.69897,1.77815,1.8451,1.90309,1.95424,2,2.30103,2.47712,2.60206,2.69897,2.77815,2.8451,2.90309,2.95424,3,3.30103,3.47712,3.60206,3.69897,3.77815,3.8451,3.90309,3.95424,4],"labels":false,"title":null,"minExtent":0,"maxExtent":0,
"tickSize":{"condition":{"test":"datum.value === round(datum.value)","value":-4},"value":-2}}},
"y2":{"field":"l1"}}},
{"data":{"values":[{"sigma_f":0.151,"ell_f":1.222}]},
"mark":{"type":"point","filled":true,"color":"#000","size":80,"opacity":1},
"encoding":{
"x":{"field":"sigma_f","type":"quantitative","axis":null},
"y":{"field":"ell_f","type":"quantitative","axis":null}
}}
],
"resolve":{"axis":{"x":"independent","y":"independent"}}
},
{"width":15,"height":304,
"title":{"text":"Δχ²","orient":"right","angle":270,"fontSize":22,"offset":-9,"anchor":"middle"},
"layer":[
{"data":{"values":[
{"lo":14.7092,"hi":15.5,"mid":15.1},{"lo":13.9183,"hi":14.7092,"mid":14.31},{"lo":13.1275,"hi":13.9183,"mid":13.52},{"lo":12.3367,"hi":13.1275,"mid":12.73},{"lo":11.5458,"hi":12.3367,"mid":11.94},{"lo":10.755,"hi":11.5458,"mid":11.15},{"lo":9.9642,"hi":10.755,"mid":10.36},{"lo":9.1733,"hi":9.9642,"mid":9.57},{"lo":8.3825,"hi":9.1733,"mid":8.78},{"lo":7.5917,"hi":8.3825,"mid":7.99},{"lo":6.8008,"hi":7.5917,"mid":7.2},{"lo":6.01,"hi":6.8008,"mid":6.41},{"lo":5.2192,"hi":6.01,"mid":5.61},{"lo":4.4283,"hi":5.2192,"mid":4.82},{"lo":3.6375,"hi":4.4283,"mid":4.03},{"lo":2.8467,"hi":3.6375,"mid":3.24},{"lo":2.0558,"hi":2.8467,"mid":2.45},{"lo":1.265,"hi":2.0558,"mid":1.66},{"lo":0.4742,"hi":1.265,"mid":0.87},{"lo":-0.3167,"hi":0.4742,"mid":0.08},{"lo":-1.1075,"hi":-0.3167,"mid":-0.71},{"lo":-1.8983,"hi":-1.1075,"mid":-1.5},{"lo":-2.6892,"hi":-1.8983,"mid":-2.29},{"lo":-3.48,"hi":-2.6892,"mid":-3.08},{"lo":-4.2708,"hi":-3.48,"mid":-3.88},{"lo":-5.0617,"hi":-4.2708,"mid":-4.67},{"lo":-5.8525,"hi":-5.0617,"mid":-5.46},{"lo":-6.6433,"hi":-5.8525,"mid":-6.25},{"lo":-7.4342,"hi":-6.6433,"mid":-7.04},{"lo":-8.225,"hi":-7.4342,"mid":-7.83},{"lo":-9.0158,"hi":-8.225,"mid":-8.62},{"lo":-9.8067,"hi":-9.0158,"mid":-9.41},{"lo":-10.5975,"hi":-9.8067,"mid":-10.2},{"lo":-11.3883,"hi":-10.5975,"mid":-10.99},{"lo":-12.1792,"hi":-11.3883,"mid":-11.78},{"lo":-12.97,"hi":-12.1792,"mid":-12.57},{"lo":-13.7608,"hi":-12.97,"mid":-13.37},{"lo":-14.5517,"hi":-13.7608,"mid":-14.16},{"lo":-15.3425,"hi":-14.5517,"mid":-14.95},{"lo":-15.5,"hi":-15.3425,"mid":-15.42}
]},
"mark":{"type":"rect","strokeWidth":0.4},
"encoding":{
"x":{"value":0},"x2":{"value":"width"},
"y":{"field":"lo","type":"quantitative","scale":{"domain":[-15.5,16.885],"nice":false,"zero":false},"axis":null},
"y2":{"field":"hi"},
"fill":{"field":"mid","type":"quantitative","scale":{"type":"linear","domain":[-15.5,-12.4,-9.3,-6.2,-3.1,0,3.1,6.2,9.3,12.4,15.5],"range":["#053061","#2166ac","#4393c3","#92c5de","#d1e5f0","#f7f7f7","#fddbc7","#f4a582","#d6604d","#b2182b","#67001f"],"interpolate":"rgb","clamp":true,"nice":false,"zero":false},"legend":null},
"stroke":{"field":"mid","type":"quantitative","scale":{"type":"linear","domain":[-15.5,-12.4,-9.3,-6.2,-3.1,0,3.1,6.2,9.3,12.4,15.5],"range":["#053061","#2166ac","#4393c3","#92c5de","#d1e5f0","#f7f7f7","#fddbc7","#f4a582","#d6604d","#b2182b","#67001f"],"interpolate":"rgb","clamp":true,"nice":false,"zero":false},"legend":null}
}},
{"data":{"values":[{"lo":-15.5,"hi":15.5}]},
"mark":{"type":"rect","filled":false,"stroke":"#333","strokeWidth":0.8},
"encoding":{"x":{"value":0},"x2":{"value":"width"},"y":{"field":"lo","type":"quantitative","axis":null},"y2":{"field":"hi"}}},
{"data":{"values":[{"over":16.19}]},
"mark":{"type":"point","shape":"M-1,0.867L0,-0.867L1,0.867Z","filled":true,"fill":"#67001f","stroke":"#333","strokeWidth":0.6,"size":225,"opacity":1},
"encoding":{"y":{"field":"over","type":"quantitative","axis":null}}},
{"data":{"values":[{"b":15.5},{"b":14.7092},{"b":13.9183},{"b":13.1275},{"b":12.3367},{"b":11.5458},{"b":10.755},{"b":9.9642},{"b":9.1733},{"b":8.3825},{"b":7.5917},{"b":6.8008},{"b":6.01},{"b":5.2192},{"b":4.4283},{"b":3.6375},{"b":2.8467},{"b":2.0558},{"b":1.265},{"b":0.4742},{"b":-0.3167},{"b":-1.1075},{"b":-1.8983},{"b":-2.6892},{"b":-3.48},{"b":-4.2708},{"b":-5.0617},{"b":-5.8525},{"b":-6.6433},{"b":-7.4342},{"b":-8.225},{"b":-9.0158},{"b":-9.8067},{"b":-10.5975},{"b":-11.3883},{"b":-12.1792},{"b":-12.97},{"b":-13.7608},{"b":-14.5517},{"b":-15.3425}]},
"mark":{"type":"tick","orient":"horizontal","size":3.5,"thickness":0.8,"color":"#222","xOffset":-1.75,"opacity":1},
"encoding":{"x":{"value":"width"},"y":{"field":"b","type":"quantitative","axis":null}}},
{"data":{"values":[{"level":-0.3167}]},
"mark":{"type":"rule","color":"#000","strokeWidth":2.5},
"encoding":{"y":{"field":"level","type":"quantitative","axis":null}}},
{"data":{"values":[{"tick":15.5,"txt":"15.50"},{"tick":12.3367,"txt":"12.34"},{"tick":9.1733,"txt":"9.17"},{"tick":6.01,"txt":"6.01"},{"tick":2.8467,"txt":"2.85"},{"tick":-0.3167,"txt":"−0.32"},{"tick":-3.48,"txt":"−3.48"},{"tick":-6.6433,"txt":"−6.64"},{"tick":-9.8067,"txt":"−9.81"},{"tick":-12.97,"txt":"−12.97"}]},
"mark":{"type":"text","align":"left","baseline":"middle","dx":4,"fontSize":12.5,"font":"Liberation Serif","color":"#000"},
"encoding":{"x":{"value":"width"},"y":{"field":"tick","type":"quantitative","axis":null},"text":{"field":"txt"}}}
]}
]
}
